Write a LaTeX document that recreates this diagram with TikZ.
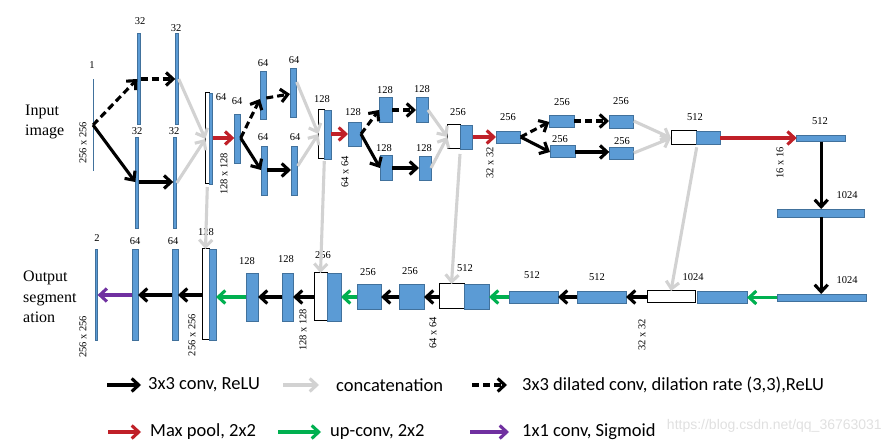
\documentclass[tikz,border=0pt]{standalone}
\usepackage{fontspec}
\setmainfont{Liberation Serif}
\newfontfamily\legfont{Carlito}
\newfontfamily\wmfont{Liberation Sans}
\usetikzlibrary{arrows.meta}
\definecolor{bfill}{RGB}{91,155,213}
\definecolor{bline}{RGB}{65,113,156}
\definecolor{cgray}{RGB}{210,210,210}
\definecolor{cred}{RGB}{192,32,40}
\definecolor{cgreen}{RGB}{0,176,80}
\definecolor{cpurple}{RGB}{112,48,160}
\newcommand\mkbox[6]{%
  \pgfmathsetmacro\bwd{#5-#3}\pgfmathsetmacro\bht{#6-#4}%
  \node[#2, minimum width=\bwd pt, minimum height=\bht pt] (#1) at ({(#3+#5)/2},{(#4+#6)/2}) {};}
\begin{document}
\begin{tikzpicture}[x=1pt,y=-1pt,
  blk/.style={draw=bline, fill=bfill, line width=0.9pt, inner sep=0pt, outer sep=0pt},
  wht/.style={draw=black, fill=white, line width=1pt, inner sep=0pt, outer sep=0pt},
  num/.style={font=\fontsize{10.5}{12}\selectfont, inner sep=0pt},
  rot/.style={num, rotate=90},
  big/.style={font=\fontsize{16}{20.5}\selectfont, align=left, anchor=west, inner sep=0pt},
  leg/.style={font=\legfont\fontsize{18.5}{20}\selectfont, anchor=west, inner sep=0pt},
  conv/.style={line width=3.1pt, black, -{Straight Barb[length=7pt,width=13pt]}},
  dil/.style={conv, dash pattern=on 7pt off 4pt},
  cat/.style={conv, color=cgray},
  pool/.style={conv, color=cred},
  upc/.style={conv, color=cgreen},
  sig/.style={conv, color=cpurple}]
\useasboundingbox (0,0) rectangle (889,446);

% ---------- encoder blocks ----------
\mkbox{in}{fill=bline, inner sep=0pt, outer sep=0pt}{92.5}{79}{93.6}{171}
\mkbox{b1a}{blk}{137.3}{33}{140.7}{124}
\mkbox{b1b}{blk}{135.3}{137}{138.7}{228}
\mkbox{b2a}{blk}{175.3}{33}{178.7}{124}
\mkbox{b2b}{blk}{173.3}{137}{176.7}{228}
\mkbox{c1w}{wht}{205.3}{93}{209.3}{184}
\mkbox{c1b}{blk}{209.3}{93}{212.7}{184}
\mkbox{b3}{blk}{234.3}{114.3}{240.7}{163.3}
\mkbox{b4a}{blk}{260}{71.7}{266.3}{119.3}
\mkbox{b4b}{blk}{261}{146.7}{267.3}{195}
\mkbox{b5a}{blk}{290}{68.3}{296.7}{117.3}
\mkbox{b5b}{blk}{291}{146.7}{297.7}{195}
\mkbox{c2w}{wht}{318.3}{110}{324.3}{159}
\mkbox{c2b}{blk}{324.3}{110}{331}{159}
\mkbox{b6}{blk}{348}{122}{361}{146}
\mkbox{b7a}{blk}{379}{97}{392}{122}
\mkbox{b7b}{blk}{380}{155}{392}{180}
\mkbox{b8a}{blk}{416}{97}{428}{122}
\mkbox{b8b}{blk}{419}{156}{431}{180}
\mkbox{c3w}{wht}{447.3}{125}{460}{149}
\mkbox{c3b}{blk}{460}{125}{472.7}{149}
\mkbox{b9}{blk}{496}{131}{520.7}{143.3}
\mkbox{b10a}{blk}{549.3}{115}{574}{127.7}
\mkbox{b10b}{blk}{550}{145.3}{575}{157.7}
\mkbox{b11a}{blk}{609}{115}{633.7}{128.3}
\mkbox{b11b}{blk}{609.3}{147.3}{633.7}{159.3}
\mkbox{c4w}{wht}{671}{131}{696.7}{144.3}
\mkbox{c4b}{blk}{696.7}{131}{720.3}{144.3}
\mkbox{b12}{blk}{796.7}{135.7}{845.7}{141.7}
\mkbox{b13}{blk}{777}{209}{864}{217}
\mkbox{b14}{blk}{777}{294}{866}{301}

% ---------- decoder blocks ----------
\mkbox{c5w}{wht}{647}{291}{695}{303}
\mkbox{c5b}{blk}{697}{291}{747}{303}
\mkbox{b15}{blk}{577}{291}{626}{303}
\mkbox{b16}{blk}{509}{291}{558}{303}
\mkbox{c6w}{wht}{439}{284}{464}{309}
\mkbox{c6b}{blk}{464}{284}{489}{309}
\mkbox{b17}{blk}{399}{284}{424}{309}
\mkbox{b18}{blk}{357}{284}{381}{309}
\mkbox{c7w}{wht}{314}{273}{327}{321}
\mkbox{c7b}{blk}{327}{273}{341}{321}
\mkbox{b19}{blk}{282}{273}{293}{321}
\mkbox{b20}{blk}{246}{273}{258}{321}
\mkbox{c8w}{wht}{202}{249}{209}{340}
\mkbox{c8b}{blk}{209}{249}{216}{340}
\mkbox{b21}{blk}{172}{249}{178}{340}
\mkbox{b22}{blk}{132}{249}{138}{340}
\mkbox{b23}{blk, line width=0.6pt}{95}{249}{97.6}{340}

% ---------- labels ----------
\node[num] (t0) at (92,65) {1};
\node[num] (t1) at (140,21) {32};
\node[num] (t2) at (137,131) {32};
\node[num] (t3) at (176,28) {32};
\node[num] (t4) at (174,131) {32};
\node[num] (t5) at (221,97) {64};
\node[num] (t6) at (237,101) {64};
\node[num] (t7) at (263,63) {64};
\node[num] (t8) at (263,137) {64};
\node[num] (t9) at (294,60) {64};
\node[num] (t10) at (295,137) {64};
\node[num] (t11) at (322,99) {128};
\node[num] (t12) at (353,112) {128};
\node[num] (t13) at (385,90) {128};
\node[num] (t14) at (384,148) {128};
\node[num] (t15) at (422,89) {128};
\node[num] (t16) at (424,148) {128};
\node[num] (t17) at (458,112) {256};
\node[num] (t18) at (508,117) {256};
\node[num] (t19) at (562,102) {256};
\node[num] (t20) at (560,139) {256};
\node[num] (t21) at (621,101) {256};
\node[num] (t22) at (622,141) {256};
\node[num] (t23) at (695,117) {512};
\node[num] (t24) at (820,121) {512};
\node[num] (t25) at (847,195) {1024};
\node[num] (t26) at (847,280) {1024};
\node[num] (t27) at (693,277) {1024};
\node[num] (t28) at (597,277) {512};
\node[num] (t29) at (532,275) {512};
\node[num] (t30) at (465,268) {512};
\node[num] (t31) at (410,271) {256};
\node[num] (t32) at (368,272) {256};
\node[num] (t33) at (323,255) {256};
\node[num] (t34) at (286,259) {128};
\node[num] (t35) at (247,261) {128};
\node[num] (t36) at (206,232) {128};
\node[num] (t37) at (173,241) {64};
\node[num] (t38) at (135,241) {64};
\node[num] (t39) at (97,238) {2};

\node[rot] (r1) at (83,143) {256 x 256};
\node[rot] (r2) at (224,174) {128 x 128};
\node[rot] (r3) at (345,172) {64 x 64};
\node[rot] (r4) at (490,163) {32 x 32};
\node[rot] (r5) at (780,163) {16 x 16};
\node[rot] (r6) at (642,335) {32 x 32};
\node[rot] (r7) at (433,333) {64 x 64};
\node[rot] (r8) at (303,330) {128 x 128};
\node[rot] (r9) at (192,335) {256 x 256};
\node[rot] (r10) at (83,337) {256 x 256};

\node[big] (inp) at (25,122) {Input\\image};
\node[big] (outp) at (23,297) {Output\\segment\\ation};

% ---------- encoder connectors ----------
\draw[dil] (in.center) -- (b1a.west |- 0,79);
\draw[conv] (in.center) -- (b1b.west |- 0,182);
\draw[dil] (b1a.east |- 0,79) -- (b2a.west |- 0,79);
\draw[conv] (b1b.east |- 0,182) -- (b2b.west |- 0,182);
\draw[cat] (b2a.east |- 0,79) -- (c1w.west |- 0,139);
\draw[cat] (b2b.east |- 0,183) -- (c1w.west |- 0,139);
\draw[pool] (c1b.east |- 0,138) -- (b3.west |- 0,138);
\draw[dil] (b3.east |- 0,138) -- (b4a.west |- 0,99);
\draw[conv] (b3.east |- 0,138) -- (b4b.west |- 0,170);
\draw[dil] (b4a.east |- 0,98) -- (b5a.west |- 0,94);
\draw[conv] (b4b.east |- 0,170) -- (b5b.west |- 0,170);
\draw[cat] (b5a.east |- 0,82) -- (c2w.west |- 0,134);
\draw[cat] (b5b.east |- 0,166) -- (c2w.west |- 0,134);
\draw[pool] (c2b.east |- 0,134) -- (b6.west |- 0,134);
\draw[dil] (b6.east |- 0,134) -- (b7a.west |- 0,110);
\draw[conv] (b6.east |- 0,134) -- (b7b.west |- 0,168);
\draw[dil] (b7a.east |- 0,110) -- (b8a.west |- 0,110);
\draw[conv] (b7b.east |- 0,168) -- (b8b.west |- 0,168);
\draw[cat] (b8a.east |- 0,110) -- (c3w.west |- 0,137);
\draw[cat] (b8b.east |- 0,168) -- (c3w.west |- 0,137);
\draw[pool] (c3b.east |- 0,137) -- (b9.west |- 0,137);
\draw[dil] (b9.east |- 0,137) -- (b10a.west |- 0,122);
\draw[conv] (b9.east |- 0,137) -- (b10b.west |- 0,152);
\draw[dil] (b10a.east |- 0,121) -- (b11a.west |- 0,121);
\draw[conv] (b10b.east |- 0,152) -- (b11b.west |- 0,152);
\draw[cat] (b11a.east |- 0,121) -- (c4w.west |- 0,138);
\draw[cat] (b11b.east |- 0,153) -- (c4w.west |- 0,138);
\draw[pool] (c4b.east |- 0,138) -- (b12.west |- 0,138);
\draw[conv] (b12.south) -- (b13.north -| b12.south);
\draw[conv] (b13.south -| b12.south) -- (b14.north -| b12.south);

% ---------- decoder connectors ----------
\draw[upc] (b14.west) -- (c5b.east |- b14.west);
\draw[cat] ([yshift=-3pt]c4w.south east) -- (c5w.north);
\draw[conv] (c5w.west) -- (b15.east);
\draw[conv] (b15.west) -- (b16.east);
\draw[upc] (b16.west) -- (c6b.east |- b16.west);
\draw[cat] ([yshift=-5pt]c3w.south east) -- (c6w.north);
\draw[conv] (c6w.west |- b16.west) -- (b17.east |- b16.west);
\draw[conv] (b17.west |- b16.west) -- (b18.east |- b16.west);
\draw[upc] (b18.west |- b16.west) -- (c7b.east |- b16.west);
\draw[cat] ([yshift=-2pt]c2w.south east) -- (c7w.north);
\draw[conv] (c7w.west |- b16.west) -- (b19.east |- b16.west);
\draw[conv] (b19.west |- b16.west) -- (b20.east |- b16.west);
\draw[upc] (b20.west |- b16.west) -- (c8b.east |- b16.west);
\draw[cat] ([yshift=-3pt]c1w.south) -- (c8w.north);
\draw[conv] (c8w.west |- 0,295) -- (b21.east |- 0,295);
\draw[conv] (b21.west |- 0,295) -- (b22.east |- 0,295);
\draw[sig] (b22.west |- 0,295) -- (b23.east |- 0,295);

% ---------- legend ----------
\coordinate (k1a) at (107,385); \coordinate (k1b) at (141,385);
\coordinate (k2a) at (283,385); \coordinate (k2b) at (319,385);
\coordinate (k3a) at (472,385); \coordinate (k3b) at (507,385);
\coordinate (k4a) at (108,432); \coordinate (k4b) at (141,432);
\coordinate (k5a) at (278,432); \coordinate (k5b) at (321,432);
\coordinate (k6a) at (470,432); \coordinate (k6b) at (509,432);
\draw[conv] (k1a) -- (k1b);
\draw[cat] (k2a) -- (k2b);
\draw[dil, dash pattern=on 7pt off 4pt] (k3a) -- (k3b);
\draw[pool] (k4a) -- (k4b);
\draw[upc] (k5a) -- (k5b);
\draw[sig] (k6a) -- (k6b);
\node[leg] (g1) at (148,385) {3x3 conv, ReLU};
\node[leg] (g2) at (336,385) {concatenation};
\node[leg] (g3) at (522,385) {3x3 dilated conv, dilation rate (3,3),ReLU};
\node[leg] (g4) at (150,432) {Max pool, 2x2};
\node[leg] (g5) at (330,432) {up-conv, 2x2};
\node[leg] (g6) at (522,432) {1x1 conv, Sigmoid};
\node[font=\wmfont\fontsize{14}{16}\selectfont, text=black!12, anchor=east, inner sep=0pt] (wm) at (882,426) {https://blog.csdn.net/qq\_36763031};
\end{tikzpicture}
\end{document}
